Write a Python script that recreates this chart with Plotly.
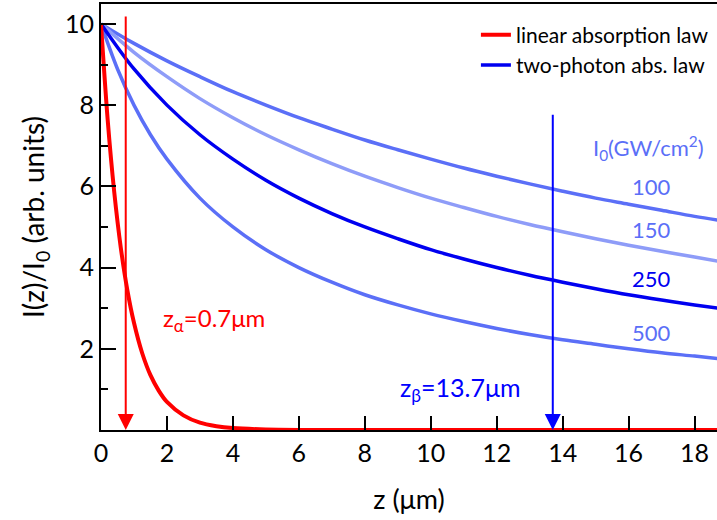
import plotly.graph_objects as go

# ---- data ----
z_lin = [0, 0.2, 0.4, 0.6, 0.8, 1.0, 1.25, 1.5, 1.75, 2.0, 2.5, 3.0, 3.5, 4.0, 5.0, 6.0, 8.0, 12.0, 18.7]
I_lin = [10, 7.66, 5.87, 4.49, 3.44, 2.64, 1.89, 1.35, 0.97, 0.69, 0.36, 0.18, 0.094, 0.048, 0.013, 0.003, 0, 0, 0]

z_tpa = [0, 1, 2, 3, 4, 5, 6, 7, 8, 9, 10, 11, 12, 13, 14, 15, 16, 17, 18, 18.7]
I_100 = [10, 9.52, 9.09, 8.70, 8.33, 8.00, 7.69, 7.41, 7.14, 6.90, 6.67, 6.45, 6.25, 6.06, 5.88, 5.71, 5.56, 5.41, 5.26, 5.17]
I_150 = [10, 9.30, 8.70, 8.16, 7.69, 7.27, 6.90, 6.56, 6.25, 5.97, 5.71, 5.48, 5.26, 5.06, 4.88, 4.71, 4.55, 4.40, 4.26, 4.16]
I_250 = [10, 8.89, 8.00, 7.27, 6.67, 6.15, 5.71, 5.33, 5.00, 4.71, 4.44, 4.21, 4.00, 3.81, 3.64, 3.48, 3.33, 3.20, 3.08, 3.00]
z_500 = [0, 0.5, 1, 1.5, 2, 3, 4, 5, 6, 7, 8, 9, 10, 11, 12, 13, 14, 15, 16, 17, 18, 18.7]
I_500 = [10, 8.89, 8.00, 7.27, 6.67, 5.71, 5.00, 4.44, 4.00, 3.64, 3.33, 3.08, 2.86, 2.67, 2.50, 2.35, 2.22, 2.11, 2.00, 1.90, 1.82, 1.76]

intensity_labels = ["100", "150", "250", "500"]
label_y = [5.99, 4.93, 3.72, 2.39]

z_alpha = 0.75
z_beta = 13.7

x_ticks = [0, 2, 4, 6, 8, 10, 12, 14, 16, 18]
y_ticks = [2, 4, 6, 8, 10]
y_minor = [1, 3, 5, 7, 9]

# ---- styles ----
FONT = "Lato"
LIGHT = "#5b6ff7"
PALE = "#8e9cf8"
DARK = "#0000f0"
RED = "#ff0000"

fig = go.Figure()
fig.add_trace(go.Scatter(x=z_tpa, y=I_100, mode="lines", line=dict(color=LIGHT, width=3.5, shape="spline"), showlegend=False))
fig.add_trace(go.Scatter(x=z_tpa, y=I_150, mode="lines", line=dict(color=PALE, width=3.5, shape="spline"), showlegend=False))
fig.add_trace(go.Scatter(x=z_500, y=I_500, mode="lines", line=dict(color=LIGHT, width=3.5, shape="spline"), showlegend=False))
fig.add_trace(go.Scatter(x=z_tpa, y=I_250, mode="lines", name="two-photon abs. law",
                         line=dict(color=DARK, width=3.5, shape="spline"), legendrank=2))
fig.add_trace(go.Scatter(x=z_lin, y=I_lin, mode="lines", name="linear absorption law",
                         line=dict(color=RED, width=4, shape="spline", smoothing=0.8), legendrank=1))

# arrows
fig.add_annotation(x=z_alpha, y=0, ax=z_alpha, ay=10.22, xref="x", yref="y", axref="x", ayref="y",
                   text="", showarrow=True, arrowhead=2, arrowsize=1.6, arrowwidth=2, arrowcolor=RED)
fig.add_annotation(x=z_beta, y=0, ax=z_beta, ay=7.8, xref="x", yref="y", axref="x", ayref="y",
                   text="", showarrow=True, arrowhead=2, arrowsize=1.6, arrowwidth=2, arrowcolor="#0000ff")

# texts
fig.add_annotation(x=3.43, y=2.72, text="z<sub>α</sub>=0.7μm", showarrow=False,
                   font=dict(family=FONT, size=24, color=RED))
fig.add_annotation(x=10.9, y=1.0, text="z<sub>β</sub>=13.7μm", showarrow=False,
                   font=dict(family=FONT, size=25, color="#0000ff"))
fig.add_annotation(x=16.6, y=6.95, text="I<sub>0</sub>(GW/cm<sup>2</sup>)", showarrow=False,
                   font=dict(family=FONT, size=22, color=LIGHT))
lab_colors = [LIGHT, LIGHT, DARK, LIGHT]
for t, yy, c in zip(intensity_labels, label_y, lab_colors):
    fig.add_annotation(x=16.7, y=yy, text=t, showarrow=False, font=dict(family=FONT, size=22, color=c))

fig.update_layout(
    width=717, height=520,
    margin=dict(l=101, r=0, t=4, b=90),
    paper_bgcolor="white", plot_bgcolor="white",
    font=dict(family=FONT, size=25, color="black"),
    legend=dict(x=0.995, y=0.975, xanchor="right", yanchor="top", bgcolor="rgba(0,0,0,0)",
                font=dict(family=FONT, size=21, color="black"), tracegroupgap=0,
                yref="paper"),
    xaxis=dict(range=[0, 18.68], tickvals=x_ticks, ticks="inside", ticklen=14, tickwidth=2,
               tickcolor="black", showline=True, linecolor="black", linewidth=2, mirror=True,
               showgrid=False, zeroline=False, tickfont=dict(family=FONT, size=25),
               title=dict(text="z (μm)", font=dict(family=FONT, size=27), standoff=24)),
    yaxis=dict(range=[0, 10.49], tickvals=y_ticks, ticks="inside", ticklen=15, tickwidth=2,
               tickcolor="black", showline=True, linecolor="black", linewidth=2,
               showgrid=False, zeroline=False, tickfont=dict(family=FONT, size=25),
               minor=dict(tickvals=y_minor, ticks="inside", ticklen=7, tickwidth=2, tickcolor="black", showgrid=False),
               title=dict(text="I(z)/I<sub>0</sub> (arb. units)", font=dict(family=FONT, size=28), standoff=12)),
)

fig.write_html("out.html")
